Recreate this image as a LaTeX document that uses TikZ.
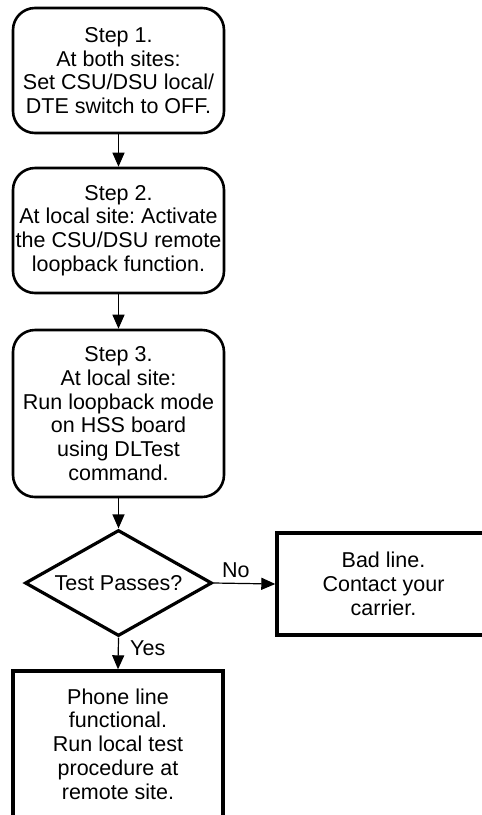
\documentclass[tikz,border=0pt]{standalone}
\usepackage{fontspec}
\setmainfont{Liberation Sans}
\usetikzlibrary{shapes.geometric,arrows.meta}
\frenchspacing

\tikzset{
  txt/.style={font=\fontsize{21.5}{23.8}\selectfont, align=center, inner sep=0pt},
  stepbox/.style={txt, draw, line width=2.6pt, rounded corners=22pt,
    minimum width=211pt},
  endbox/.style={txt, draw, line width=3.4pt, minimum width=211pt},
  decision/.style={txt, draw, line width=3.2pt, diamond, aspect=1.77,
    minimum width=187pt, minimum height=106pt},
  arr/.style={line width=1.2pt, -{Triangle[length=14pt,width=12pt]}},
  lbl/.style={font=\fontsize{21.5}{23.8}\selectfont, inner sep=0pt}
}

\begin{document}
\begin{tikzpicture}[x=1pt,y=-1pt]
  \useasboundingbox (0,0) rectangle (482,815);
  \clip (0,0) rectangle (482,815);

  % procedure steps
  \node[stepbox, minimum height=125pt] (s1) at (118.5,70.5)
    {Step 1.\\At both sites:\\Set CSU/DSU local/\\DTE switch to OFF.};
  \node[stepbox, minimum height=125pt] (s2) at (118.5,230.5)
    {Step 2.\\At local site: Activate\\the CSU/DSU remote\\loopback function.};
  \node[stepbox, minimum height=167pt] (s3) at (118.5,413.5)
    {Step 3.\\At local site:\\Run loopback mode\\on HSS board\\using DLTest\\command.};

  % test decision
  \node[decision] (d) at (118.5,583) {Test Passes?};

  % outcomes
  \node[endbox, minimum width=213pt, minimum height=102pt] (bad) at (383.5,584)
    {Bad line.\\Contact your\\carrier.};
  \node[endbox, minimum width=210pt, minimum height=146pt] (ok) at (118,744)
    {Phone line\\functional.\\Run local test\\procedure at\\remote site.};

  % connectors
  \draw[arr] (s1.south) -- (s2.north);
  \draw[arr] (s2.south) -- (s3.north);
  \draw[arr] (s3.south) -- (d.north);
  \draw[arr] (d.east) -- (bad.west);
  \draw[arr] (d.south) -- (ok.north);

  \node[lbl, anchor=base west] (no) at (222,577) {No};
  \node[lbl, anchor=base west] (yes) at (130,655) {Yes};
\end{tikzpicture}
\end{document}
